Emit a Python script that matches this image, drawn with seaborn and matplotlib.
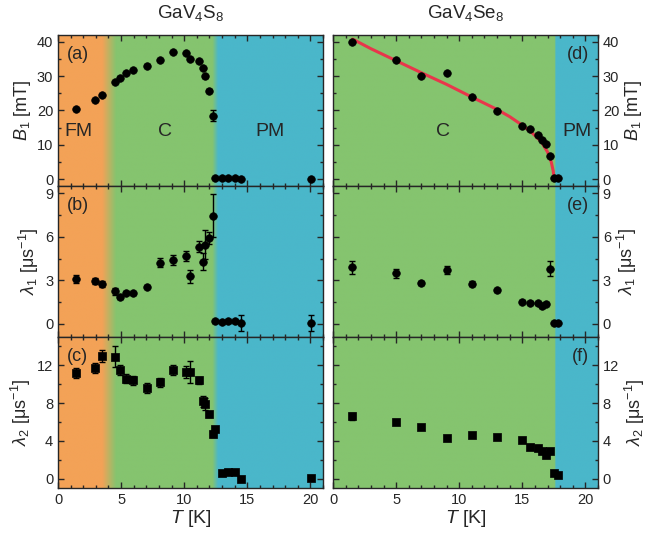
import matplotlib
matplotlib.use("Agg")
import matplotlib.pyplot as plt
import seaborn as sns
import numpy as np
import pandas as pd

# GaV4S8 data
T_s = [1.45, 2.95, 3.47, 4.55, 4.92, 5.42, 5.97, 7.03, 8.05, 9.1, 10.16, 10.47,
       11.16, 11.47, 11.68, 11.97, 12.29, 12.45, 13.0, 13.45, 14.0, 14.47, 20.05]
B1_s = [20.3, 23.1, 24.6, 28.3, 29.6, 30.8, 31.9, 33.1, 34.7, 37.0, 36.7, 35.0,
        34.3, 32.4, 30.0, 25.8, 18.5, 0.2, 0.2, 0.2, 0.2, 0.1, 0.1]
B1_s_err = [0.3, 0.3, 0.3, 0.3, 0.3, 0.3, 0.3, 0.3, 0.3, 0.3, 0.3, 0.3,
            0.3, 0.3, 0.4, 0.4, 1.5, 0.2, 0.2, 0.2, 0.2, 0.2, 0.2]
lam1_s = [3.1, 2.94, 2.73, 2.25, 1.86, 2.16, 2.11, 2.57, 4.22, 4.41, 4.68, 3.28,
          5.33, 4.29, 5.44, 5.92, 7.46, 0.18, 0.14, 0.18, 0.18, 0.05, 0.07]
lam1_s_err = [0.3, 0.2, 0.2, 0.25, 0.15, 0.1, 0.1, 0.1, 0.3, 0.35, 0.35, 0.45,
              0.35, 0.6, 1.0, 0.4, 1.5, 0.1, 0.1, 0.1, 0.1, 0.55, 0.55]
lam2_s = [11.2, 11.7, 13.0, 12.9, 11.5, 10.6, 10.4, 9.6, 10.2, 11.5, 11.3, 11.3,
          10.4, 8.2, 7.9, 6.8, 4.7, 5.3, 0.55, 0.7, 0.7, 0.0, 0.1]
lam2_s_err = [0.5, 0.5, 0.6, 1.1, 0.5, 0.5, 0.5, 0.5, 0.5, 0.5, 0.6, 1.2,
              0.4, 0.6, 0.6, 0.3, 0.3, 0.2, 0.1, 0.1, 0.1, 0.1, 0.1]

# GaV4Se8 data
T_se = [1.5, 5.0, 7.0, 9.0, 11.0, 13.0, 15.0, 15.6, 16.25, 16.6, 16.9, 17.2, 17.55, 17.8]
B1_se = [40.0, 34.6, 30.1, 30.8, 24.0, 19.8, 15.5, 14.5, 12.9, 11.3, 10.3, 6.7, 0.2, 0.2]
B1_se_err = [0.3] * 14
lam1_se = [3.9, 3.49, 2.82, 3.72, 2.78, 2.32, 1.52, 1.47, 1.42, 1.22, 1.38, 3.81, 0.07, 0.07]
lam1_se_err = [0.45, 0.3, 0.15, 0.3, 0.15, 0.1, 0.1, 0.1, 0.1, 0.1, 0.1, 0.5, 0.05, 0.05]
lam2_se = [6.58, 6.02, 5.46, 4.27, 4.65, 4.41, 4.06, 3.39, 3.22, 2.9, 2.55, 2.94, 0.63, 0.42]
lam2_se_err = [0.35, 0.2, 0.2, 0.15, 0.15, 0.15, 0.15, 0.15, 0.15, 0.15, 0.15, 0.15, 0.1, 0.1]

# fit curve
T_fit = [1.55, 3.0, 5.0, 7.0, 9.0, 11.0, 13.0, 14.0, 15.0, 15.8, 16.5, 17.0, 17.3, 17.45, 17.52]
B_fit = [40.8, 38.0, 34.5, 31.0, 27.6, 23.9, 20.3, 18.2, 15.7, 13.4, 10.9, 7.9, 4.9, 2.4, 0.0]

ORANGE = np.array([243, 162, 87]) / 255
GREEN = np.array([133, 196, 111]) / 255
BLUE = np.array([74, 183, 202]) / 255

sns.set_style("ticks")
plt.rcParams['font.family'] = ['Liberation Sans', 'DejaVu Sans']
plt.rcParams['mathtext.fontset'] = 'custom'
plt.rcParams['mathtext.rm'] = 'Liberation Sans'
plt.rcParams['mathtext.it'] = 'Liberation Sans:italic'
plt.rcParams['mathtext.default'] = 'regular'
plt.rcParams['xtick.direction'] = 'in'
plt.rcParams['ytick.direction'] = 'in'

fig, axes = plt.subplots(3, 2, figsize=(6.51, 5.38), dpi=100)
fig.subplots_adjust(left=0.0891, right=0.9186, top=0.935, bottom=0.0929,
                    hspace=0, wspace=0.038)


def background(ax, stops, cols, ylim):
    t = np.linspace(0, 21, 800)
    rgb = np.stack([np.interp(t, stops, [c[i] for c in cols]) for i in range(3)], axis=-1)
    ax.imshow(rgb[None, :, :], extent=[0, 21, ylim[0], ylim[1]], aspect='auto',
              zorder=0, interpolation='bilinear')


left_stops = [0, 3.5, 4.6, 12.25, 12.7, 21]
left_cols = [ORANGE, ORANGE, GREEN, GREEN, BLUE, BLUE]
right_stops = [0, 17.6, 17.65, 21]
right_cols = [GREEN, GREEN, BLUE, BLUE]

ylims = [(-2, 42), (-0.9, 9.5), (-1, 15)]
yticks = [[0, 10, 20, 30, 40], [0, 3, 6, 9], [0, 4, 8, 12]]
yminor = [5, 1.5, 2]
ylabels = [r'$\mathit{B}_{\mathit{1}}$ [mT]',
           r'$\mathit{\lambda}_{1}$ [$\mu$s$^{-1}$]',
           r'$\mathit{\lambda}_{2}$ [$\mu$s$^{-1}$]']

left_data = [(T_s, B1_s, B1_s_err, 'o'), (T_s, lam1_s, lam1_s_err, 'o'), (T_s, lam2_s, lam2_s_err, 's')]
right_data = [(T_se, B1_se, B1_se_err, 'o'), (T_se, lam1_se, lam1_se_err, 'o'), (T_se, lam2_se, lam2_se_err, 's')]
panel_letters = [['(a)', '(d)'], ['(b)', '(e)'], ['(c)', '(f)']]

for r in range(3):
    for c in range(2):
        ax = axes[r, c]
        T, y, e, m = (left_data if c == 0 else right_data)[r]
        if c == 0:
            background(ax, left_stops, left_cols, ylims[r])
        else:
            background(ax, right_stops, right_cols, ylims[r])
        ax.errorbar(T, y, yerr=e, fmt='none', ecolor='black', elinewidth=1,
                    capsize=2, capthick=1, zorder=2)
        df = pd.DataFrame({'T': T, 'y': y})
        sns.scatterplot(data=df, x='T', y='y', ax=ax, color='black', marker=m,
                        s=30 if m == 'o' else 28, edgecolor='black', linewidth=0.5, zorder=3)
        ax.set_xlim(0, 21)
        ax.set_ylim(*ylims[r])
        ax.set_yticks(yticks[r])
        ax.yaxis.set_minor_locator(matplotlib.ticker.MultipleLocator(yminor[r]))
        ax.set_xticks([0, 5, 10, 15, 20])
        ax.xaxis.set_minor_locator(matplotlib.ticker.MultipleLocator(1))
        ax.tick_params(which='both', top=True, bottom=True, left=True, right=True,
                       labelsize=10.5, width=1)
        ax.tick_params(which='major', length=4)
        ax.tick_params(which='minor', length=2)
        for sp in ax.spines.values():
            sp.set_linewidth(1)
        ax.set_xlabel('')
        if r < 2:
            ax.tick_params(labelbottom=False)
        else:
            ax.set_xlabel(r'$\mathit{T}$ [K]', fontsize=14, labelpad=1)
        ax.set_ylabel(ylabels[r], fontsize=13, labelpad=3)
        if c == 1:
            ax.yaxis.set_label_position('right')
            ax.tick_params(labelleft=False, labelright=True)
            ax.text(0.965, 0.93, panel_letters[r][c], transform=ax.transAxes,
                    ha='right', va='top', fontsize=13)
        else:
            ax.text(0.035, 0.93, panel_letters[r][c], transform=ax.transAxes,
                    ha='left', va='top', fontsize=13)

sns.lineplot(x=T_fit, y=B_fit, ax=axes[0, 1], color='#E8364B', lw=2.2, zorder=2.5, sort=False)

axes[0, 0].text(1.65, 14, 'FM', ha='center', va='center', fontsize=14)
axes[0, 0].text(8.5, 14, 'C', ha='center', va='center', fontsize=14)
axes[0, 0].text(16.8, 14, 'PM', ha='center', va='center', fontsize=14)
axes[0, 1].text(8.7, 14, 'C', ha='center', va='center', fontsize=14)
axes[0, 1].text(19.3, 14, 'PM', ha='center', va='center', fontsize=14)

axes[0, 0].set_title(r'GaV$_4$S$_8$', fontsize=13.5, pad=12)
axes[0, 1].set_title(r'GaV$_4$Se$_8$', fontsize=13.5, pad=12)

fig.savefig('out.png', dpi=100)
